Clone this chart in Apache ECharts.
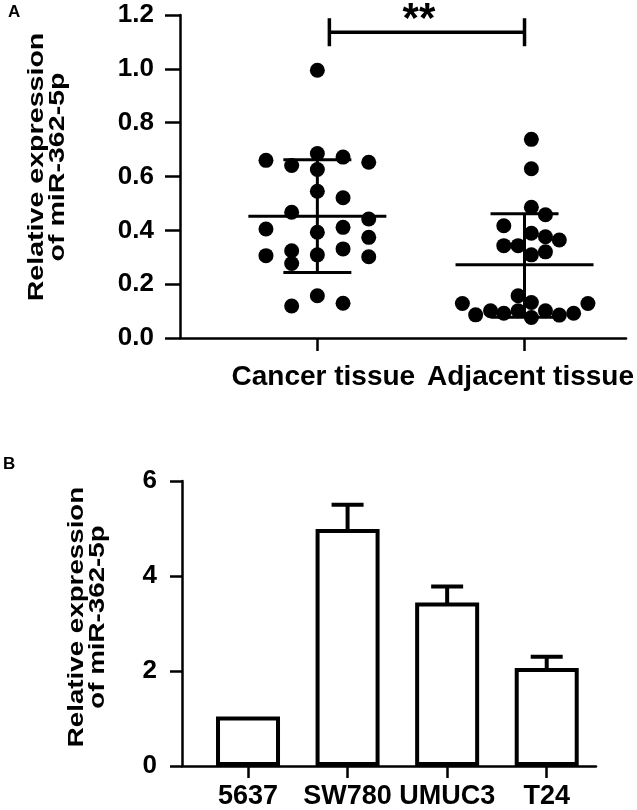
<!DOCTYPE html>
<html><head><meta charset="utf-8">
<script src="https://cdn.jsdelivr.net/npm/echarts@6/dist/echarts.min.js"></script>
<style>html,body{margin:0;padding:0;background:#fff}#c{width:637px;height:810px}</style>
</head><body><div id="c"></div>
<script>
// ---- Panel A data ----
const catsA = ['Cancer tissue', 'Adjacent tissue'];
const cancerX = [1, 0.752, 0.876, 1, 1.124, 1.248, 1, 1, 1.124, 0.876, 1.248, 0.752, 1, 1.124, 1.248, 0.752, 0.876, 0.876, 1, 1.124, 1.248, 0.876, 1, 1.124];
const cancerY = [0.995, 0.660, 0.641, 0.685, 0.672, 0.653, 0.626, 0.545, 0.521, 0.467, 0.442, 0.405, 0.393, 0.411, 0.374, 0.306, 0.324, 0.277, 0.309, 0.331, 0.302, 0.119, 0.157, 0.129];
const adjX = [2.033, 2.033, 2.033, 2.101, 1.900, 2.033, 2.101, 2.168, 1.900, 1.969, 2.033, 2.101, 1.969, 2.033, 1.700, 2.306, 1.764, 1.836, 1.900, 1.969, 2.033, 2.101, 2.168, 2.237];
const adjY = [0.738, 0.629, 0.486, 0.458, 0.417, 0.389, 0.376, 0.364, 0.343, 0.343, 0.309, 0.320, 0.157, 0.132, 0.128, 0.128, 0.086, 0.101, 0.092, 0.101, 0.076, 0.101, 0.085, 0.092];
const meanA = [0.452, 0.272];
const sdLoA = [0.243, 0.077];
const sdHiA = [0.662, 0.462];
const bracketX = [1.058, 2.0];
const bracketY = 1.136;
const sigLabel = '**';

// ---- Panel B data ----
const catsB = ['5637', 'SW780', 'UMUC3', 'T24'];
const valsB = [1.0, 4.95, 3.40, 2.02];
const errHiB = [1.0, 5.50, 3.78, 2.30];

const yTitle = 'Relative expression\nof miR-362-5p';
const FONT = '"Liberation Sans", Arial, sans-serif';

const chart = echarts.init(document.getElementById('c'), null, {renderer: 'canvas'});

const axisLineStyle = {color: '#000', width: 2.5};

const errA = catsA.map((c, i) => [i + 1, meanA[i], sdLoA[i], sdHiA[i]]);
const barDataB = catsB.map((c, i) => [i + 1, valsB[i], errHiB[i]]);

function titleText(cx, cy, sx) {
  return {type: 'text', x: cx, y: cy, rotation: Math.PI / 2, scaleX: sx, scaleY: 1,
    style: {text: yTitle, font: 'bold 22px ' + FONT, fill: '#000', align: 'center', verticalAlign: 'middle', lineHeight: 21}};
}

chart.setOption({
  animation: false,
  backgroundColor: '#fff',
  textStyle: {fontFamily: FONT},
  graphic: [
    {type: 'text', left: 8, top: 4, style: {text: 'A', font: 'bold 17px ' + FONT, fill: '#000'}},
    {type: 'text', left: 3, top: 456, style: {text: 'B', font: 'bold 17px ' + FONT, fill: '#000'}},
    titleText(47, 167, 1.3),
    titleText(87, 617, 1.26)
  ],
  grid: [
    {left: 180, top: 15, width: 448, height: 323},
    {left: 182, top: 481, width: 414, height: 287}
  ],
  xAxis: [
    {
      gridIndex: 0, type: 'value', min: 0.337, max: 2.49,
      splitLine: {show: false},
      axisLine: {lineStyle: axisLineStyle},
      axisTick: {customValues: [1, 2], length: 13, lineStyle: {color: '#000', width: 2.5}},
      axisLabel: {customValues: [1, 2], formatter: v => catsA[Math.round(v) - 1], margin: 25,
        padding: [0, 0, 0, 12],
        fontSize: 28, fontWeight: 'bold', color: '#000', fontFamily: FONT}
    },
    {
      gridIndex: 1, type: 'value', min: 0.337, max: 4.495,
      splitLine: {show: false},
      axisLine: {lineStyle: axisLineStyle},
      axisTick: {customValues: [1, 2, 3, 4], length: 12, lineStyle: {color: '#000', width: 2.5}},
      axisLabel: {customValues: [1, 2, 3, 4], formatter: v => catsB[Math.round(v) - 1], margin: 17,
        fontSize: 27, fontWeight: 'bold', color: '#000', fontFamily: FONT}
    }
  ],
  yAxis: [
    {
      gridIndex: 0, type: 'value', min: 0, max: 1.2, interval: 0.2,
      splitLine: {show: false},
      axisLine: {show: true, lineStyle: axisLineStyle},
      axisTick: {show: true, length: 15, lineStyle: {color: '#000', width: 2.5}},
      axisLabel: {formatter: v => v.toFixed(1), margin: 26, fontSize: 26, fontWeight: 'bold', color: '#000', fontFamily: FONT}
    },
    {
      gridIndex: 1, type: 'value', min: 0, max: 6, interval: 2,
      splitLine: {show: false},
      axisLine: {show: true, lineStyle: axisLineStyle},
      axisTick: {show: true, length: 12, lineStyle: {color: '#000', width: 2.5}},
      axisLabel: {margin: 25, fontSize: 26, fontWeight: 'bold', color: '#000', fontFamily: FONT}
    }
  ],
  series: [
    {
      type: 'scatter', xAxisIndex: 0, yAxisIndex: 0, symbol: 'circle', symbolSize: 15,
      itemStyle: {color: '#000', opacity: 1},
      data: cancerX.map((x, i) => [x, cancerY[i]])
    },
    {
      type: 'scatter', xAxisIndex: 0, yAxisIndex: 0, symbol: 'circle', symbolSize: 15,
      itemStyle: {color: '#000', opacity: 1},
      data: adjX.map((x, i) => [x, adjY[i]])
    },
    {
      type: 'custom', xAxisIndex: 0, yAxisIndex: 0, z: 5,
      data: errA,
      renderItem: function (params, api) {
        const x = api.value(0);
        const m = api.coord([x, api.value(1)]);
        const lo = api.coord([x, api.value(2)]);
        const hi = api.coord([x, api.value(3)]);
        const st = {stroke: '#000', lineWidth: 3};
        return {type: 'group', children: [
          {type: 'line', shape: {x1: m[0] - 69, y1: m[1], x2: m[0] + 69, y2: m[1]}, style: st},
          {type: 'line', shape: {x1: lo[0], y1: lo[1], x2: hi[0], y2: hi[1]}, style: st},
          {type: 'line', shape: {x1: hi[0] - 34, y1: hi[1], x2: hi[0] + 34, y2: hi[1]}, style: st},
          {type: 'line', shape: {x1: lo[0] - 34, y1: lo[1], x2: lo[0] + 34, y2: lo[1]}, style: st}
        ]};
      }
    },
    {
      type: 'custom', xAxisIndex: 0, yAxisIndex: 0, clip: false,
      data: [[bracketX[0], bracketX[1], bracketY]],
      renderItem: function (params, api) {
        const a = api.coord([api.value(0), api.value(2)]);
        const b = api.coord([api.value(1), api.value(2)]);
        const st = {stroke: '#000', lineWidth: 3.5};
        return {type: 'group', children: [
          {type: 'line', shape: {x1: a[0], y1: a[1], x2: b[0], y2: b[1]}, style: st},
          {type: 'line', shape: {x1: a[0], y1: a[1] - 14, x2: a[0], y2: a[1] + 14}, style: st},
          {type: 'line', shape: {x1: b[0], y1: b[1] - 14, x2: b[0], y2: b[1] + 14}, style: st},
          {type: 'text', style: {text: sigLabel, x: (a[0] + b[0]) / 2 - 8, y: a[1] - 12, align: 'center', verticalAlign: 'middle',
            font: 'bold 42px ' + FONT, fill: '#000'}}
        ]};
      }
    },
    {
      type: 'custom', xAxisIndex: 1, yAxisIndex: 1,
      data: barDataB,
      renderItem: function (params, api) {
        const x = api.value(0);
        const base = api.coord([x, 0]);
        const top = api.coord([x, api.value(1)]);
        const err = api.coord([x, api.value(2)]);
        const w = 60, lw = 4;
        const children = [
          {type: 'rect', shape: {x: base[0] - w / 2, y: top[1], width: w, height: base[1] - top[1] - lw / 2},
            style: {fill: '#fff', stroke: '#000', lineWidth: lw}}
        ];
        if (api.value(2) > api.value(1)) {
          children.push({type: 'line', shape: {x1: top[0], y1: top[1], x2: err[0], y2: err[1]}, style: {stroke: '#000', lineWidth: lw}});
          children.push({type: 'line', shape: {x1: err[0] - 16, y1: err[1], x2: err[0] + 16, y2: err[1]}, style: {stroke: '#000', lineWidth: lw}});
        }
        return {type: 'group', children: children};
      }
    }
  ]
});
</script>
</body></html>
